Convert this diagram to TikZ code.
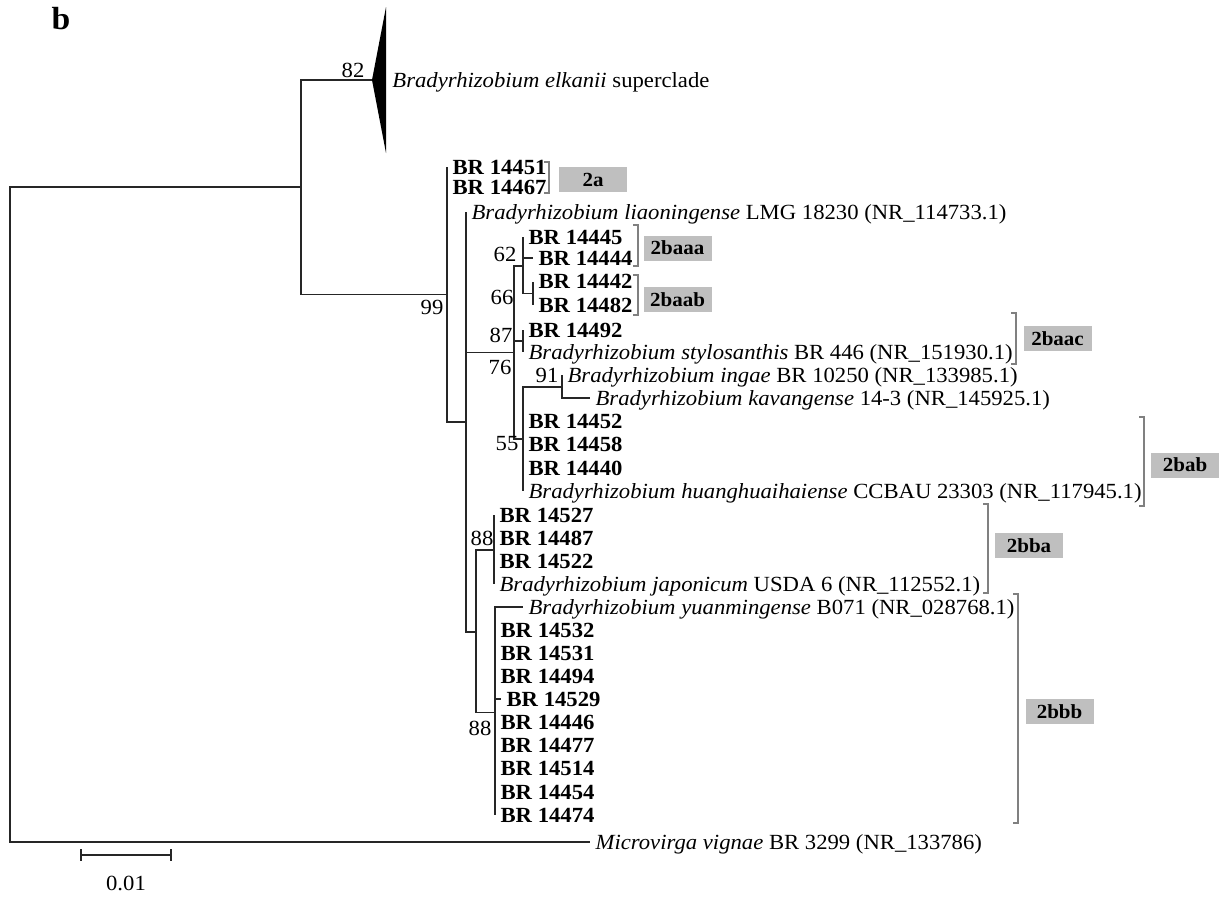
\documentclass[tikz,border=0pt]{standalone}
\usepackage{fontspec}
\setmainfont{Liberation Serif}[FakeStretch=1.05]
\newcommand\cladebracket[3]{\draw[brk] (#1-5,#2) -- (#1,#2) -- (#1,#3) -- (#1-5,#3);}
\begin{document}
\begin{tikzpicture}[x=0.5pt,y=-0.5pt,
  br/.style={line width=0.75pt, draw=black!85},
  leaf/.style={anchor=west, inner xsep=2.6pt, inner ysep=0pt, text height=7pt, text depth=0pt, font=\fontsize{10.8}{12}\selectfont},
  bleaf/.style={leaf, font=\fontsize{10.8}{12}\selectfont\bfseries},
  bs/.style={inner sep=0pt, font=\fontsize{10.8}{12}\selectfont},
  clade/.style={fill=gray!50, inner sep=0pt, minimum width=34pt, minimum height=12.5pt, font=\fontsize{10}{11}\selectfont\bfseries},
  brk/.style={draw=gray, line width=0.75pt}]
\useasboundingbox (0,0) rectangle (1224,916);

% title
\node[font=\fontsize{16}{18}\selectfont\bfseries] (title) at (61,19) {b};

% internal nodes
\coordinate (R) at (10,514.5);
\coordinate (A) at (301,187);
\coordinate (El) at (372,80);
\coordinate (B) at (447,294.5);
\coordinate (C) at (466,422);
\coordinate (D) at (514,352.5);
\coordinate (F) at (523,266);
\coordinate (I) at (533,293.5);
\coordinate (G) at (523,341);
\coordinate (H) at (523,439);
\coordinate (J) at (562,387);
\coordinate (E) at (476,632);
\coordinate (Ka) at (494,550);
\coordinate (Kb) at (495,712.5);

% collapsed clade
\fill[black] (El) -- (386,7) -- (386,153) -- cycle;
\node[leaf, inner xsep=3pt] (elk) at (386,80) {\itshape Bradyrhizobium elkanii\/ \upshape superclade};

% leaves
\node[bleaf] (l14451) at (447,167) {BR 14451};
\node[bleaf] (l14467) at (447,187.5) {BR 14467};
\node[leaf] (lliao) at (466,212) {\itshape Bradyrhizobium liaoningense\/ \upshape LMG 18230 (NR\_114733.1)};
\node[bleaf] (l14445) at (523,237) {BR 14445};
\node[bleaf] (l14444) at (533,258) {BR 14444};
\node[bleaf] (l14442) at (533,281.5) {BR 14442};
\node[bleaf] (l14482) at (533,305) {BR 14482};
\node[bleaf] (l14492) at (523,330) {BR 14492};
\node[leaf] (lstyl) at (523,352) {\itshape Bradyrhizobium stylosanthis\/ \upshape BR 446 (NR\_151930.1)};
\node[leaf] (linga) at (562,375) {\itshape Bradyrhizobium ingae\/ \upshape BR 10250 (NR\_133985.1)};
\node[leaf] (lkava) at (590,398) {\itshape Bradyrhizobium kavangense\/ \upshape 14-3 (NR\_145925.1)};
\node[bleaf] (l14452) at (523,421.5) {BR 14452};
\node[bleaf] (l14458) at (523,444.5) {BR 14458};
\node[bleaf] (l14440) at (523,468) {BR 14440};
\node[leaf] (lhuan) at (523,491) {\itshape Bradyrhizobium huanghuaihaiense\/ \upshape CCBAU 23303 (NR\_117945.1)};
\node[bleaf] (l14527) at (494,515) {BR 14527};
\node[bleaf] (l14487) at (494,538) {BR 14487};
\node[bleaf] (l14522) at (494,561) {BR 14522};
\node[leaf] (ljapo) at (494,584) {\itshape Bradyrhizobium japonicum\/ \upshape USDA 6 (NR\_112552.1)};
\node[leaf] (lyuan) at (523,607) {\itshape Bradyrhizobium yuanmingense\/ \upshape B071 (NR\_028768.1)};
\node[bleaf] (l14532) at (495,630) {BR 14532};
\node[bleaf] (l14531) at (495,653) {BR 14531};
\node[bleaf] (l14494) at (495,676) {BR 14494};
\node[bleaf] (l14529) at (501,699) {BR 14529};
\node[bleaf] (l14446) at (495,722.5) {BR 14446};
\node[bleaf] (l14477) at (495,745.5) {BR 14477};
\node[bleaf] (l14514) at (495,768.5) {BR 14514};
\node[bleaf] (l14454) at (495,792) {BR 14454};
\node[bleaf] (l14474) at (495,815) {BR 14474};
\node[leaf] (lmicr) at (590,842) {\itshape Microvirga vignae\/ \upshape BR 3299 (NR\_133786)};

% branches
\draw[br] (R) |- (A);
\draw[br] (R) |- (lmicr.west);
\draw[br] (A) |- (El);
\draw[br] (A) |- (B);
\draw[br] (B) |- (l14451.west);
\draw[br] (B) |- (l14467.west);
\draw[br] (B) |- (C);
\draw[br] (C) |- (lliao.west);
\draw[br] (C) |- (D);
\draw[br] (C) |- (E);
\draw[br] (D) |- (F);
\draw[br] (D) |- (G);
\draw[br] (D) |- (H);
\draw[br] (F) |- (l14445.west);
\draw[br] (F) |- (l14444.west);
\draw[br] (F) |- (I);
\draw[br] (I) |- (l14442.west);
\draw[br] (I) |- (l14482.west);
\draw[br] (G) |- (l14492.west);
\draw[br] (G) |- (lstyl.west);
\draw[br] (H) |- (J);
\draw[br] (H) |- (l14452.west);
\draw[br] (H) |- (l14458.west);
\draw[br] (H) |- (l14440.west);
\draw[br] (H) |- (lhuan.west);
\draw[br] (J) |- (linga.west);
\draw[br] (J) |- (lkava.west);
\draw[br] (E) |- (Ka);
\draw[br] (E) |- (Kb);
\draw[br] (Ka) |- (l14527.west);
\draw[br] (Ka) |- (l14487.west);
\draw[br] (Ka) |- (l14522.west);
\draw[br] (Ka) |- (ljapo.west);
\draw[br] (Kb) |- (lyuan.west);
\draw[br] (Kb) |- (l14532.west);
\draw[br] (Kb) |- (l14531.west);
\draw[br] (Kb) |- (l14494.west);
\draw[br] (Kb) |- (l14529.west);
\draw[br] (Kb) |- (l14446.west);
\draw[br] (Kb) |- (l14477.west);
\draw[br] (Kb) |- (l14514.west);
\draw[br] (Kb) |- (l14454.west);
\draw[br] (Kb) |- (l14474.west);

% bootstrap values
\node[bs] (s82) at (353,70) {82};
\node[bs] (s99) at (432,307) {99};
\node[bs] (s62) at (505,254) {62};
\node[bs] (s66) at (502,297) {66};
\node[bs] (s87) at (501,335) {87};
\node[bs] (s76) at (500,367) {76};
\node[bs] (s91) at (547,375) {91};
\node[bs] (s55) at (507,444) {55};
\node[bs] (s88a) at (482,538) {88};
\node[bs] (s88b) at (480,728) {88};

% clade brackets and labels
\cladebracket{549}{162}{193}
\node[clade] (c2a) at (593,179.5) {2a};
\cladebracket{638}{225}{266}
\node[clade] (c2baaa) at (677.5,248) {2baaa};
\cladebracket{638}{275}{315}
\node[clade] (c2baab) at (677.5,299.5) {2baab};
\cladebracket{1016}{313}{364}
\node[clade] (c2baac) at (1057.5,338.5) {2baac};
\cladebracket{1144}{417}{506}
\node[clade] (c2bab) at (1185,465) {2bab};
\cladebracket{988}{504}{593}
\node[clade] (c2bba) at (1029,545.5) {2bba};
\cladebracket{1018}{594}{823}
\node[clade] (c2bbb) at (1059.5,711.5) {2bbb};

% scale bar
\coordinate (sb1) at (81,855);
\coordinate (sb2) at (171,855);
\draw[br] (sb1) -- (sb2);
\draw[br] ([yshift=3pt]sb1) -- ([yshift=-3pt]sb1);
\draw[br] ([yshift=3pt]sb2) -- ([yshift=-3pt]sb2);
\node[bs] (sbl) at (126,883) {0.01};
\end{tikzpicture}
\end{document}
